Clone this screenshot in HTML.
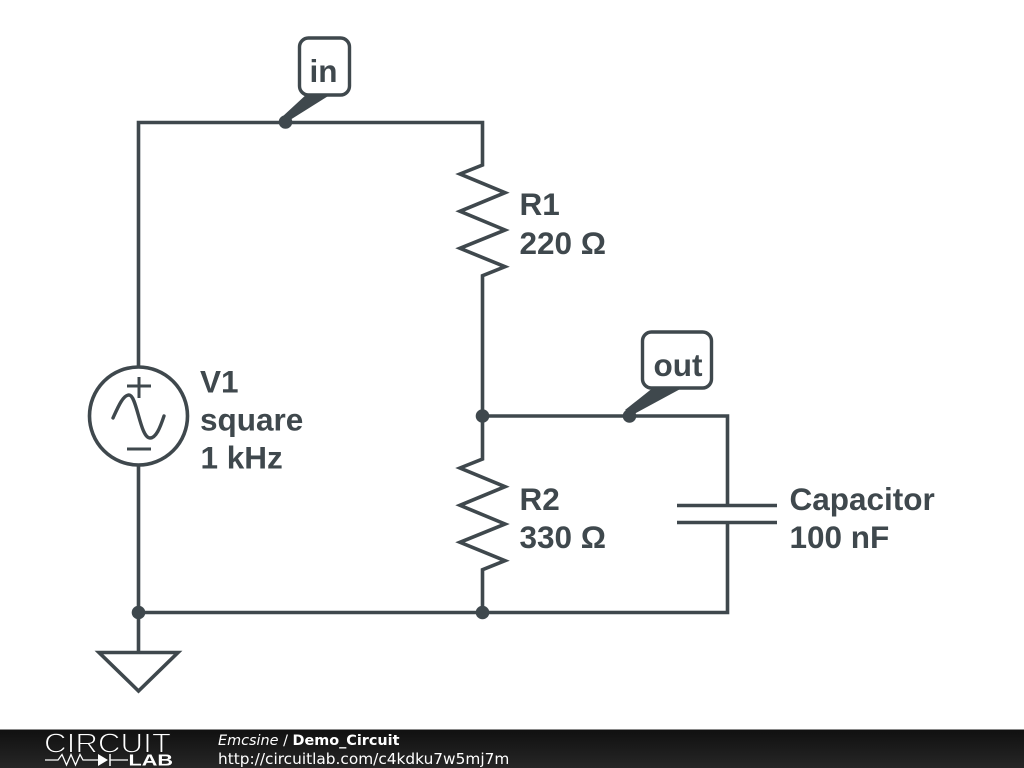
<!DOCTYPE html>
<html><head><meta charset="utf-8"><style>
html,body{margin:0;padding:0;background:#fff;width:1024px;height:768px;overflow:hidden}
svg{display:block}
.l{font-family:"Liberation Sans",sans-serif;font-weight:bold;font-size:31.5px;fill:#3f484d}
.f{font-family:"DejaVu Sans",sans-serif;font-size:14.4px;fill:#fff}
</style></head><body>
<svg width="1024" height="768" viewBox="0 0 1024 768" xmlns="http://www.w3.org/2000/svg">
<defs><linearGradient id="g" x1="0" y1="0" x2="0" y2="1"><stop offset="0" stop-color="#101010"/><stop offset="1" stop-color="#262626"/></linearGradient></defs>
<g fill="none" stroke="#3f484d" stroke-width="3.6" stroke-linejoin="miter">
<path d="M138.5 367V122.5H482.5V165L460 174L505 192.7L460 211.3L505 230L460 248.3L505 266.7L482.5 275.7V459L460 468L505 486.7L460 505.3L505 524L460 542.3L505 560.7L482.5 569.7V612.5"/>
<path d="M482.5 416H727.5V505.5M727.5 522.5V612.5H138.5M138.5 465V652"/>
<path d="M677 505.5H777M677 522.5H777"/>
<path d="M99 652.5H178L138.5 691Z"/>
<circle cx="138.5" cy="416" r="49"/>
<path d="M127 386H151M139 377V398M127 449H151" stroke-width="3"/>
<path d="M113 418C118 407 123 395 129 395C137 395 140 438 150 438C156 438 160 428 164 416" stroke-width="3.4" stroke-linecap="round"/>
</g>
<g fill="#3f484d">
<circle cx="285.5" cy="122" r="6.8"/>
<circle cx="629.5" cy="416" r="6.8"/>
<circle cx="482.5" cy="416" r="6.8"/>
<circle cx="482.5" cy="612.5" r="6.8"/>
<circle cx="138.5" cy="612.5" r="6.8"/>
<polygon points="308,93 333,93 290,120 282,117"/>
<polygon points="654,387 684,387 634,414 625,410"/>
</g>
<rect x="299.5" y="38" width="50" height="57" rx="9" fill="#fff" stroke="#3f484d" stroke-width="3.4"/>
<rect x="642.5" y="332" width="69" height="56" rx="9" fill="#fff" stroke="#3f484d" stroke-width="3.4"/>
<text class="l" x="309.5" y="82">in</text>
<text class="l" x="653.5" y="376">out</text>
<text class="l" x="519.5" y="215">R1</text>
<text class="l" x="519.5" y="254">220 Ω</text>
<text class="l" x="519.5" y="510">R2</text>
<text class="l" x="519.5" y="548">330 Ω</text>
<text class="l" x="200" y="392.5">V1</text>
<text class="l" x="200" y="430.5">square</text>
<text class="l" x="200.5" y="468.5">1 kHz</text>
<text class="l" x="789.5" y="510">Capacitor</text>
<text class="l" x="789.5" y="548">100 nF</text>
<rect x="0" y="729" width="1024" height="39" fill="url(#g)"/>
<rect x="0" y="729" width="1024" height="1" fill="#8a8a8a"/>
<text x="44" y="752.5" font-family="'Liberation Sans',sans-serif" font-size="27.500" fill="#fff" stroke="#171717" stroke-width="1" textLength="127" lengthAdjust="spacingAndGlyphs">CIRCUIT</text>
<text x="128.500" y="765.500" font-family="'Liberation Sans',sans-serif" font-weight="bold" font-size="16" fill="#fff" textLength="44.500" lengthAdjust="spacingAndGlyphs">LAB</text>
<path d="M45 760H58L62 754.500L66.500 765L71 754.500L75.500 765L80 754.500L83 760H98M110 760H128" fill="none" stroke="#fff" stroke-width="1.300"/>
<path d="M98 754V766L108 760Z" fill="#fff"/>
<path d="M110 754V766" fill="none" stroke="#fff" stroke-width="1.500"/>
<text class="f" x="218" y="745"><tspan font-style="italic">Emcsine</tspan> / <tspan font-weight="bold">Demo_Circuit</tspan></text>
<text class="f" x="218" y="764" style="font-size:15.35px">http://circuitlab.com/c4kdku7w5mj7m</text>
</svg>
</body></html>
